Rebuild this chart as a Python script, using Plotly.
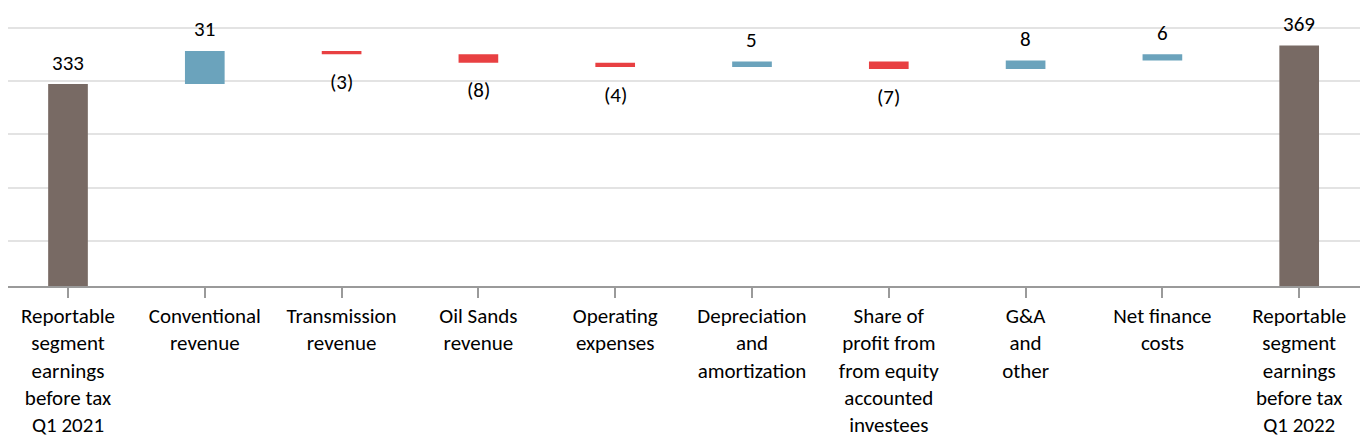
import plotly.graph_objects as go

categories = [
    "Reportable<br>segment<br>earnings<br>before tax<br>Q1 2021",
    "Conventional<br>revenue",
    "Transmission<br>revenue",
    "Oil Sands<br>revenue",
    "Operating<br>expenses",
    "Depreciation<br>and<br>amortization",
    "Share of<br>profit from<br>from equity<br>accounted<br>investees",
    "G&A<br>and<br>other",
    "Net finance<br>costs",
    "Reportable<br>segment<br>earnings<br>before tax<br>Q1 2022",
]
values = [333, 31, -3, -8, -4, 5, -7, 8, 6, 369]
measures = ["absolute", "relative", "relative", "relative", "relative",
            "relative", "relative", "relative", "relative", "absolute"]
gridvals = [185.8, 235.8, 285.8, 335.8, 385.8]

TOTAL = "#786A64"
UP = "#6BA3BC"
DOWN = "#E84042"
FONT = "Carlito, Calibri, Lato, sans-serif"

fig = go.Figure(go.Waterfall(
    x=categories,
    y=values,
    measure=measures,
    width=0.29,
    increasing=dict(marker=dict(color=UP)),
    decreasing=dict(marker=dict(color=DOWN)),
    totals=dict(marker=dict(color=TOTAL)),
    connector=dict(visible=False),
    textposition="none",
    hoverinfo="skip",
))

# value labels, positioned from cumulative data
running = 0
for cat, v, m in zip(categories, values, measures):
    if m == "absolute":
        running = v
        txt = f"{v}"
        y, anchor, shift = running, "bottom", 6.5
    else:
        running += v
        if v >= 0:
            txt = f"{v}"
            y, anchor, shift = running, "bottom", 6.5
        else:
            txt = f"({-v})"
            y, anchor, shift = running, "top", -12.8
    fig.add_annotation(x=cat, y=y, text=txt, showarrow=False, yanchor=anchor,
                       yshift=shift, font=dict(size=21, color="#000000", family=FONT))

fig.update_layout(
    width=1360, height=432,
    margin=dict(l=0, r=0, t=0, b=154),
    paper_bgcolor="white", plot_bgcolor="white",
    showlegend=False,
    font=dict(family=FONT, size=21, color="#000000"),
    xaxis=dict(
        type="category",
        range=[-0.4386, 9.503],
        showline=True, linecolor="#9A9A9A", linewidth=1.5,
        ticks="outside", ticklen=10, tickcolor="#9A9A9A", tickwidth=1.5,
        showgrid=False, automargin=False,
        tickfont=dict(size=21, color="#000000", family=FONT),
    ),
    yaxis=dict(
        range=[143.9, 404.2],
        tickvals=gridvals,
        showticklabels=False,
        showgrid=True, gridcolor="#E3E3E3", gridwidth=1.5,
        zeroline=False, showline=False, ticks="",
    ),
)

fig.write_html("out.html")
